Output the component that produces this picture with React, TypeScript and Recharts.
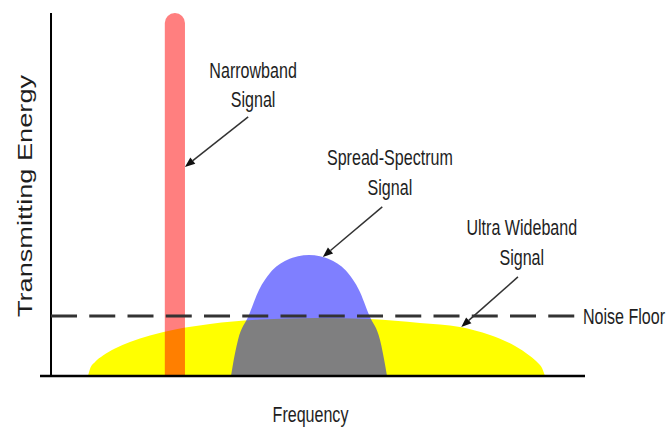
import React from 'react';
import {
  ComposedChart,
  Area,
  XAxis,
  YAxis,
  ReferenceLine,
  ReferenceArea,
  ReferenceDot,
  Rectangle,
} from 'recharts';

// ---- data (frequency / energy in arbitrary units, 0..100) ----
const uwbFreq = [8.81, 9.17, 10.09, 11.56, 13.76, 16.51, 20.18, 24.77, 31.19, 40.37, 50.64, 60.55, 69.72, 77.06, 82.57, 87.16, 89.91, 91.38, 92.11, 92.66];
const uwbEnergy = [0, 1.93, 3.86, 5.65, 7.58, 9.37, 11.16, 12.81, 14.33, 15.56, 15.98, 15.7, 14.6, 13.5, 11.29, 8.26, 5.51, 3.58, 2.2, 0];

const ssFreq = [35.05, 35.32, 36.33, 38.26, 40.18, 42.2, 45.32, 47.34, 49.36, 51.38, 53.39, 56.51, 58.53, 60.46, 62.39, 63.39, 63.67];
const ssEnergy = [0, 2.48, 9.92, 16.53, 23.69, 28.37, 31.96, 32.98, 33.33, 32.98, 31.96, 28.37, 23.69, 16.53, 9.92, 2.48, 0];

const narrowbandBand = [22.9, 26.6];
const narrowbandPeak = 100;

const noiseFloor = 16.5;
const noiseFloorEnd = 99.45;
const energyAxisAt = 2.02;

const annotationText = [
  ['Narrowband', 'Signal'],
  ['Spread-Spectrum', 'Signal'],
  ['Ultra Wideband', 'Signal'],
];
const annotationAt = [
  [39.1, 82.1],
  [64.2, 58.1],
  [88.4, 38.8],
];
const arrowFrom = [
  [38.2, 71.4],
  [62.8, 46.6],
  [87.7, 27.3],
];
const arrowTo = [
  [26.6, 57.6],
  [51.9, 32.8],
  [77.3, 13.5],
];

const xLabel = 'Frequency';
const yLabel = 'Transmitting Energy';
const noiseLabel = 'Noise Floor';

const uwbData = uwbFreq.map((f, i) => ({ f, e: uwbEnergy[i] }));
const ssData = ssFreq.map((f, i) => ({ f, e: ssEnergy[i] }));

const FONT = "'Liberation Sans', Arial, Helvetica, sans-serif";
const TEXT = '#1e1e1e';

const NarrowText = ({ x, y, lines, anchor = 'middle' }: any) => (
  <text
    transform={`translate(${x},${y}) scale(0.73,1)`}
    textAnchor={anchor}
    fontFamily={FONT}
    fontSize={22}
    fill={TEXT}
  >
    {lines.map((l: string, i: number) => (
      <tspan key={i} x={0} y={i * 29.5}>
        {l}
      </tspan>
    ))}
  </text>
);

const Arrow = (p: any) => {
  const { x1, y1, x2, y2 } = p;
  const dx = x2 - x1;
  const dy = y2 - y1;
  const len = Math.hypot(dx, dy) || 1;
  const ux = dx / len;
  const uy = dy / len;
  const hl = 10;
  const hw = 4;
  const bx = x2 - ux * hl;
  const by = y2 - uy * hl;
  const pts = `${x2},${y2} ${bx - uy * hw},${by + ux * hw} ${bx + uy * hw},${by - ux * hw}`;
  return (
    <g>
      <line x1={x1} y1={y1} x2={bx} y2={by} stroke="#333" strokeWidth={1.5} />
      <polygon points={pts} fill="#111" />
    </g>
  );
};

export default function App() {
  return (
    <div style={{ position: 'absolute', left: 0, top: 0, width: 672, height: 430, background: '#fff' }}>
      <ComposedChart width={672} height={430} margin={{ top: 13, right: 87, left: 0, bottom: 0 }}>
        <XAxis
          type="number"
          dataKey="f"
          domain={[0, 100]}
          height={54}
          tick={false}
          tickLine={false}
          axisLine={{ stroke: '#000', strokeWidth: 2.5 }}
          label={(p: any) => {
            const vb = p.viewBox || {};
            return (
              <NarrowText x={vb.x + vb.width / 2 - 2} y={vb.y + 46} lines={[xLabel]} />
            );
          }}
        />
        <YAxis
          type="number"
          dataKey="e"
          domain={[0, 100]}
          width={40}
          tick={false}
          tickLine={false}
          axisLine={false}
          label={(p: any) => {
            const vb = p.viewBox || {};
            return (
              <text
                transform={`translate(${vb.x + 32},${vb.y + vb.height / 2 + 1.5}) rotate(-90) scale(1.36,1)`}
                textAnchor="middle"
                fontFamily={FONT}
                fontSize={20}
                fill={TEXT}
              >
                {yLabel}
              </text>
            );
          }}
        />
        <Area
          data={uwbData}
          dataKey="e"
          type="monotone"
          fill="#ffff00"
          fillOpacity={1}
          stroke="none"
          isAnimationActive={false}
          dot={false}
          activeDot={false}
        />
        <Area
          data={ssData}
          dataKey="e"
          type="monotone"
          fill="#0000ff"
          fillOpacity={0.5}
          stroke="none"
          isAnimationActive={false}
          dot={false}
          activeDot={false}
        />
        <ReferenceArea
          x1={narrowbandBand[0]}
          x2={narrowbandBand[1]}
          y1={0}
          y2={narrowbandPeak}
          fill="#ff0000"
          fillOpacity={0.5}
          stroke="none"
          zIndex={150}
          shape={(p: any) => <Rectangle {...p} radius={[10, 10, 0, 0]} />}
        />
        <ReferenceLine x={energyAxisAt} stroke="#000" strokeWidth={2} />
        <ReferenceLine
          segment={[
            { x: energyAxisAt, y: noiseFloor },
            { x: noiseFloorEnd, y: noiseFloor },
          ]}
          stroke="#333"
          strokeWidth={3}
          strokeDasharray="26 12.25"
        />
        <ReferenceDot
          x={100}
          y={noiseFloor}
          r={0}
          ifOverflow="visible"
          shape={(p: any) => <NarrowText x={p.cx - 2} y={p.cy + 7.5} lines={[noiseLabel]} anchor="start" />}
        />
        {arrowFrom.map((from, i) => (
          <ReferenceLine
            key={`arrow-${i}`}
            segment={[
              { x: from[0], y: from[1] },
              { x: arrowTo[i][0], y: arrowTo[i][1] },
            ]}
            stroke="#333"
            shape={Arrow}
          />
        ))}
        {annotationAt.map((pos, i) => (
          <ReferenceDot
            key={`ann-${i}`}
            x={pos[0]}
            y={pos[1]}
            r={0}
            ifOverflow="visible"
            shape={(p: any) => <NarrowText x={p.cx} y={p.cy} lines={annotationText[i]} />}
          />
        ))}
      </ComposedChart>
    </div>
  );
}
